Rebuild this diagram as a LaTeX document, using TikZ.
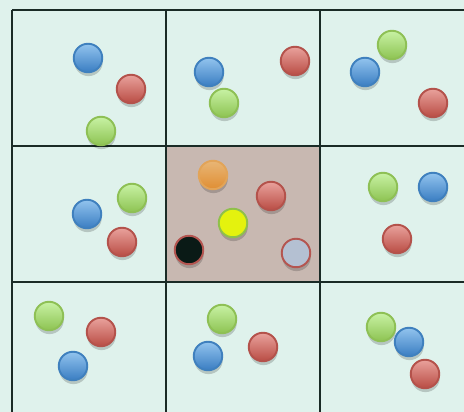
\documentclass[tikz,border=0pt]{standalone}
\usepackage{xcolor}
\usepackage{tikz}
\usetikzlibrary{shadows}
\definecolor{mintbg}{HTML}{DFF2EC}
\definecolor{cellhot}{HTML}{C8B8B1}
\definecolor{gridline}{HTML}{1A2B26}
\definecolor{blueedge}{HTML}{3F80BE}
\definecolor{bluetop}{HTML}{92C4EE}
\definecolor{bluebot}{HTML}{3A7DC2}
\definecolor{rededge}{HTML}{B4524B}
\definecolor{redtop}{HTML}{E9A29C}
\definecolor{redbot}{HTML}{B94C44}
\definecolor{greenedge}{HTML}{8EC055}
\definecolor{greentop}{HTML}{C8F2A4}
\definecolor{greenbot}{HTML}{8DC352}
\definecolor{orangeedge}{HTML}{E2A458}
\definecolor{orangetop}{HTML}{E8B676}
\definecolor{orangebot}{HTML}{E08E33}
\definecolor{yellowedge}{HTML}{8FC04A}
\definecolor{yellowfill}{HTML}{E4F20E}
\definecolor{darkedge}{HTML}{B45550}
\definecolor{blackfill}{HTML}{0A1A16}
\definecolor{greyfill}{HTML}{B4C0D2}
\tikzset{
  ball/.style={circle, minimum size=0.57cm, inner sep=0pt, line width=1.1pt,
    drop shadow={shadow xshift=0.3pt, shadow yshift=-2.2pt, opacity=0.18, fill=black}},
  ballblue/.style={ball, draw=blueedge, top color=bluetop, bottom color=bluebot},
  ballred/.style={ball, draw=rededge, top color=redtop, bottom color=redbot},
  ballgreen/.style={ball, draw=greenedge, top color=greentop, bottom color=greenbot},
  ballorange/.style={ball, draw=orangeedge, top color=orangetop, bottom color=orangebot},
  ballyellow/.style={ball, draw=yellowedge, fill=yellowfill},
  ballblack/.style={ball, draw=darkedge, fill=blackfill},
  ballgrey/.style={ball, draw=darkedge, fill=greyfill},
  gridrule/.style={draw=gridline, line width=1.2pt}
}
\begin{document}
\begin{tikzpicture}[x=0.02cm, y=-0.02cm]
% background and highlighted cell
\fill[mintbg] (0,0) rectangle (464,412);
\useasboundingbox (0,0) rectangle (464,412);
\fill[cellhot] (166,146) rectangle (320,282);
% grid
\foreach \gx in {12,166,320} \draw[gridrule] (\gx,10) -- (\gx,412);
\foreach \gy in {10,146,282} \draw[gridrule] (12,\gy) -- (464,\gy);

% top row
\node[ballblue]  (tlblue)  at (88,58)   {};
\node[ballred]   (tlred)   at (131,89)  {};
\node[ballgreen] (tlgreen) at (101,131) {};
\node[ballblue]  (tmblue)  at (209,72)  {};
\node[ballred]   (tmred)   at (295,61)  {};
\node[ballgreen] (tmgreen) at (224,103) {};
\node[ballgreen] (trgreen) at (392,45)  {};
\node[ballblue]  (trblue)  at (365,72)  {};
\node[ballred]   (trred)   at (433,103) {};

% middle row
\node[ballblue]  (mlblue)  at (87,214)  {};
\node[ballgreen] (mlgreen) at (132,198) {};
\node[ballred]   (mlred)   at (122,242) {};
\node[ballorange] (cforange) at (213,175) {};
\node[ballred]    (cfred)    at (271,196) {};
\node[ballyellow] (cfyellow) at (233,223) {};
\node[ballblack]  (cfblack)  at (189,250) {};
\node[ballgrey]   (cfgrey)   at (296,253) {};
\node[ballgreen] (mrgreen) at (383,187) {};
\node[ballblue]  (mrblue)  at (433,187) {};
\node[ballred]   (mrred)   at (397,239) {};

% bottom row
\node[ballgreen] (blgreen) at (49,316)  {};
\node[ballred]   (blred)   at (101,332) {};
\node[ballblue]  (blblue)  at (73,366)  {};
\node[ballgreen] (bmgreen) at (222,319) {};
\node[ballblue]  (bmblue)  at (208,356) {};
\node[ballred]   (bmred)   at (263,347) {};
\node[ballgreen] (brgreen) at (381,327) {};
\node[ballblue]  (brblue)  at (409,342) {};
\node[ballred]   (brred)   at (425,374) {};
\end{tikzpicture}
\end{document}
